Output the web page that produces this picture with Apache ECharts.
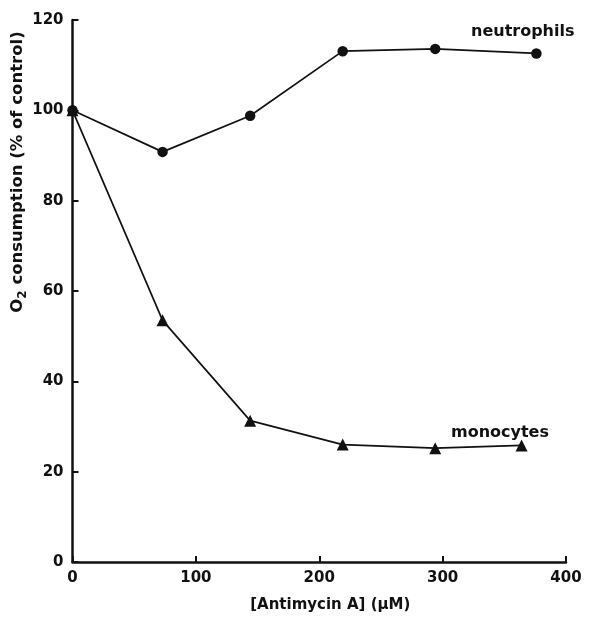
<!DOCTYPE html>
<html>
<head>
<meta charset="utf-8">
<script src="https://cdn.jsdelivr.net/npm/echarts@6/dist/echarts.min.js"></script>
<style>
  html, body { margin: 0; padding: 0; background: #fff; }
  #chart { width: 592px; height: 620px; }
</style>
</head>
<body>
<div id="chart"></div>
<script>
// Antimycin A concentration (µM) and O2 consumption (% of control)
var neutrophilDose = [0, 73, 144, 219, 294, 376];
var neutrophilO2   = [100, 90.8, 98.8, 113.1, 113.6, 112.6];
var monocyteDose   = [0, 73, 144, 219, 294, 364];
var monocyteO2     = [100, 53.5, 31.3, 26.0, 25.2, 25.8];
var xTicks = [0, 100, 200, 300, 400];
var yTicks = [0, 20, 40, 60, 80, 100, 120];

function pairs(xs, ys) {
  return xs.map(function (x, i) { return [x, ys[i]]; });
}

var FONT = '"DejaVu Sans", sans-serif';
var INK = '#111';

var chart = echarts.init(document.getElementById('chart'), null, { renderer: 'canvas' });

var axisCommon = {
  axisLine: { show: true, onZero: false, lineStyle: { color: INK, width: 2.5 } },
  axisTick: { show: true, inside: true, length: 6, lineStyle: { color: INK, width: 2 } },
  splitLine: { show: false },
  axisLabel: { color: INK, fontFamily: FONT, fontWeight: 'bold', fontSize: 15, margin: 9 }
};

chart.setOption({
  animation: false,
  backgroundColor: '#fff',
  grid: { left: 72.5, right: 26, top: 20, bottom: 58, containLabel: false },
  xAxis: Object.assign({}, axisCommon, {
    type: 'value',
    min: xTicks[0],
    max: xTicks[xTicks.length - 1],
    interval: 100,
    name: '[Antimycin A] (\u03bcM)',
    nameLocation: 'middle',
    nameGap: 36,
    nameTextStyle: { color: INK, fontFamily: FONT, fontWeight: 'bold', fontSize: 15, padding: [0, 0, 0, 22] }
  }),
  yAxis: Object.assign({}, axisCommon, {
    type: 'value',
    min: yTicks[0],
    max: yTicks[yTicks.length - 1],
    interval: 20
  }),
  series: [
    {
      name: 'neutrophils',
      type: 'line',
      data: pairs(neutrophilDose, neutrophilO2),
      symbol: 'circle',
      symbolSize: 10.5,
      lineStyle: { color: INK, width: 1.7 },
      itemStyle: { color: INK },
      z: 3
    },
    {
      name: 'monocytes',
      type: 'line',
      data: pairs(monocyteDose, monocyteO2),
      symbol: 'triangle',
      symbolSize: 12,
      lineStyle: { color: INK, width: 1.7 },
      itemStyle: { color: INK },
      z: 3
    }
  ],
  graphic: [
    {
      // vertical axis title with subscript 2
      type: 'text', x: 18, y: 172, rotation: Math.PI / 2,
      style: {
        text: '{t|O}{s|2}{t| consumption (% of control)}',
        align: 'center', verticalAlign: 'middle',
        rich: {
          t: { fill: INK, fontFamily: FONT, fontWeight: 'bold', fontSize: 16.5 },
          s: { fill: INK, fontFamily: FONT, fontWeight: 'bold', fontSize: 12, padding: [9, 0, 0, 0] }
        }
      }
    },
    {
      type: 'text', left: 471, top: 24,
      style: { text: 'neutrophils', fill: INK, font: 'bold 16px ' + FONT }
    },
    {
      type: 'text', left: 451, top: 425,
      style: { text: 'monocytes', fill: INK, font: 'bold 16px ' + FONT }
    }
  ]
});
</script>
</body>
</html>
